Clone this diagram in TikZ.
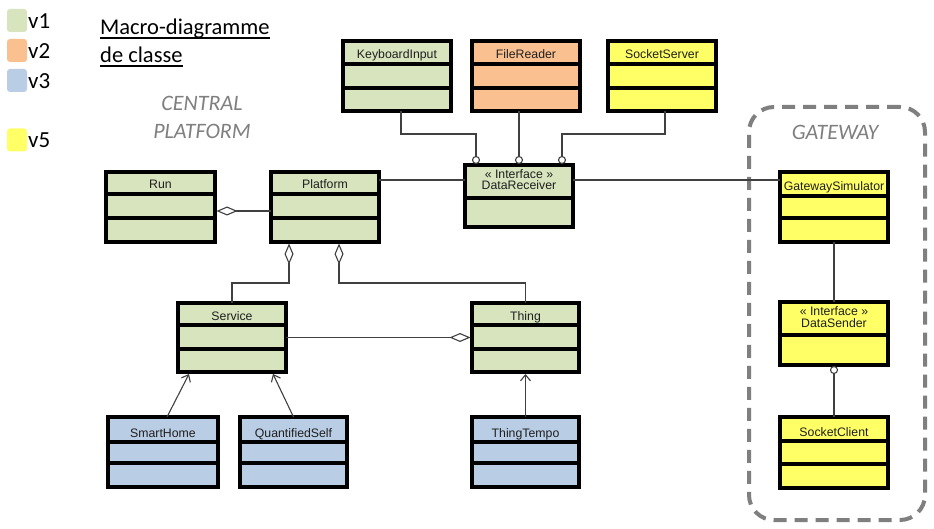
\documentclass[tikz,border=0pt]{standalone}
\usepackage{fontspec}
\setmainfont{Carlito}
\newfontfamily\boxfont{Liberation Sans}
\usetikzlibrary{arrows.meta,calc}
\definecolor{cgreen}{HTML}{D7E4BD}
\definecolor{corange}{HTML}{FAC090}
\definecolor{cblue}{HTML}{B9CDE5}
\definecolor{cyellow}{HTML}{FFFF66}
\definecolor{cgray}{HTML}{7F7F7F}
\definecolor{cline}{HTML}{404040}
\tikzset{
  classbox/.style={draw=black,line width=3.4pt,inner sep=0pt,outer sep=0pt},
  divline/.style={draw=black,line width=3.4pt},
  boxtitle/.style={font=\boxfont\fontsize{12.3}{12}\selectfont,text=black!88,inner sep=0pt,anchor=base},
  conn/.style={draw=cline,line width=1.1pt},
  lolli/.style={circle,draw=cline,fill=white,line width=1.1pt,minimum size=7pt,inner sep=0pt,outer sep=0pt},
  agg/.style={-{Diamond[fill=white,length=21pt,width=9pt]}},
  inh/.style={-{Straight Barb[length=6pt,width=10pt]}},
  legsq/.style={rounded corners=3pt,minimum width=20pt,minimum height=23pt,inner sep=0pt},
  legtxt/.style={font=\fontsize{23}{23}\selectfont,inner sep=0pt,anchor=base west},
  titletxt/.style={font=\fontsize{22.5}{23}\selectfont,inner sep=0pt,anchor=base west},
  sectlabel/.style={font=\itshape\fontsize{22}{28}\selectfont,text=cgray,align=center,inner sep=0pt},
  gwbox/.style={draw=cgray,line width=4pt,dash pattern=on 13pt off 8pt,rounded corners=25pt,inner sep=0pt}
}
% name, x1, y1, x2, y2, div1, div2, fill, title
\newcommand\clsthree[9]{%
  \node[classbox,fill=#8,minimum width={#4-#2},minimum height={#5-#3},anchor=north west] (#1) at (#2,#3) {};
  \draw[divline] (#2,#6) -- (#4,#6);
  \draw[divline] (#2,#7) -- (#4,#7);
  \node[boxtitle] (#1-t) at ({(#2+#4)/2},{#6-5}) {#9};
}
% name, x1, y1, x2, y2, div1, fill, title
\newcommand\clstwo[8]{%
  \node[classbox,fill=#7,minimum width={#4-#2},minimum height={#5-#3},anchor=north west] (#1) at (#2,#3) {};
  \draw[divline] (#2,#6) -- (#4,#6);
  \node[boxtitle] (#1-s) at ({(#2+#4)/2},{#6-19.5}) {« Interface »};
  \node[boxtitle] (#1-t) at ({(#2+#4)/2},{#6-8}) {#8};
}
\begin{document}
\begin{tikzpicture}[x=1pt,y=-1pt]
\useasboundingbox[fill=white] (0,0) rectangle (934,529);

% legend
\node[legsq,fill=cgreen] (lg1) at (17,20.5) {};
\node[legsq,fill=corange] (lg2) at (17,50.5) {};
\node[legsq,fill=cblue] (lg3) at (17,80.5) {};
\node[legsq,fill=cyellow] (lg5) at (17,140) {};
\node[legtxt] (lt1) at (28,29) {v1};
\node[legtxt] (lt2) at (28,59) {v2};
\node[legtxt] (lt3) at (28,89) {v3};
\node[legtxt] (lt5) at (28,148) {v5};

% title
\node[titletxt] (t1) at (100,35) {Macro-diagramme};
\node[titletxt] (t2) at (100,63) {de classe};
\draw[line width=1.8pt] ([yshift=-3]t1.base west) -- ([yshift=-3]t1.base east);
\draw[line width=1.8pt] ([yshift=-3]t2.base west) -- ([yshift=-3]t2.base east);

\node[sectlabel] (cp) at (202,117) {CENTRAL\\PLATFORM};

% gateway frame
\node[gwbox,minimum width=176pt,minimum height=413pt,anchor=north west] (gw) at (747,105) {};
\node[sectlabel] (gwl) at (835,132) {GATEWAY};

% classes
\clsthree{kbd}{343}{41}{451}{111}{64}{88}{cgreen}{KeyboardInput}
\clsthree{fr}{472}{41}{580}{111}{64}{88}{corange}{FileReader}
\clsthree{ss}{608}{41}{716}{111}{64}{88}{cyellow}{SocketServer}
\clstwo{dr}{465}{165}{573}{227}{198}{cgreen}{DataReceiver}
\clsthree{run}{106}{172}{215}{242}{194}{218}{cgreen}{Run}
\clsthree{pl}{271}{172}{379}{242}{194}{218}{cgreen}{Platform}
\clsthree{sv}{178}{303}{286}{372}{325}{349}{cgreen}{Service}
\clsthree{th}{472}{303}{579}{372}{325}{349}{cgreen}{Thing}
\clsthree{sh}{108}{417}{218}{487}{442}{463}{cblue}{SmartHome}
\clsthree{qs}{240}{417}{347}{487}{442}{463}{cblue}{QuantifiedSelf}
\clsthree{tt}{472}{417}{579}{487}{442}{463}{cblue}{ThingTempo}
\clsthree{gs}{780}{172}{888}{242}{196}{218}{cyellow}{GatewaySimulator}
\clstwo{ds}{780}{302}{888}{365}{335}{cyellow}{DataSender}
\clsthree{sc}{780}{417}{888}{488}{441}{464}{cyellow}{SocketClient}

% lollipops
\node[lolli] (c1) at (476,160) {};
\node[lolli] (c2) at (519,160) {};
\node[lolli] (c3) at (562,160) {};
\node[lolli] (c4) at (834,370) {};

% connectors
\draw[conn] ([xshift=4]kbd.south) -- ++(0,23) -| (c1.north);
\draw[conn] (c2.north) -- (c2.north |- fr.south);
\draw[conn] ([xshift=3]ss.south) -- ++(0,23) -| (c3.north);
\draw[conn] ([yshift=16]dr.west) -- ([yshift=16]dr.west -| pl.east);
\draw[conn] ([yshift=16]dr.east) -- ([yshift=16]dr.east -| gs.west);
\draw[conn,agg] ([yshift=-4]pl.west) -- ([yshift=-4,xshift=1.5]run.east);
\draw[conn,agg] (sv.north) -- ++(0,-20) -| ([xshift=18,yshift=-1.5]pl.south west);
\draw[conn,agg] (th.north) -- ++(0,-20) -| ([xshift=68,yshift=-1.5]pl.south west);
\draw[conn,agg] (sv.east) -- ([xshift=-1.5]th.west);
\draw[conn,inh] ([xshift=59]sh.north west) -- ([xshift=11,yshift=-2]sv.south west);
\draw[conn,inh] (qs.north) -- ([xshift=-13,yshift=-2]sv.south east);
\draw[conn,inh] (tt.north) -- ([yshift=-2]th.south);
\draw[conn] (gs.south) -- (ds.north);
\draw[conn] (c4.south) -- (sc.north);
\end{tikzpicture}
\end{document}
